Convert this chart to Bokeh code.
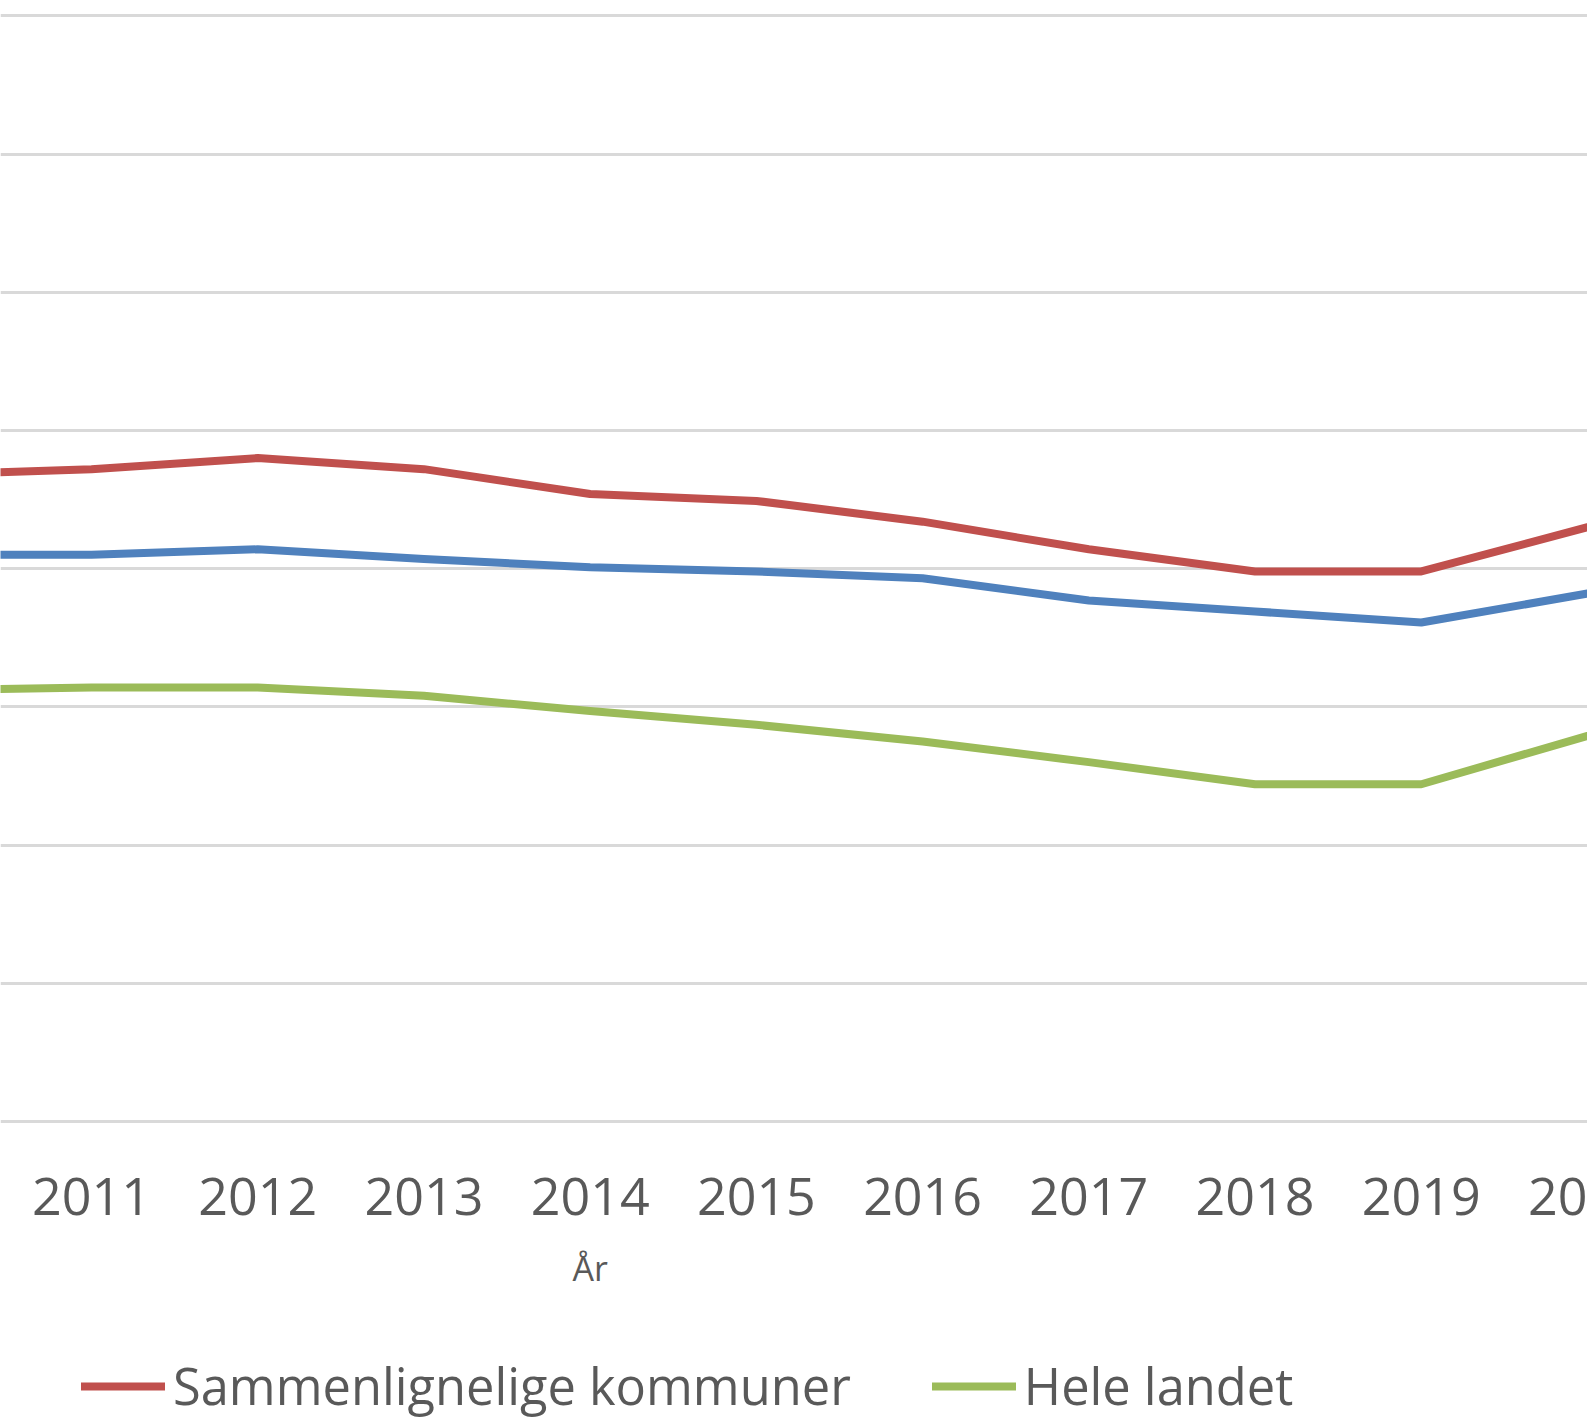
from bokeh.plotting import figure
from bokeh.layouts import column
from bokeh.models import Range1d, FixedTicker, Legend, LegendItem, Label
from bokeh.embed import file_html
from bokeh.resources import INLINE

# ---- data (y-axis labels are cropped off, scale is relative) ----
years = [2010, 2011, 2012, 2013, 2014, 2015, 2016, 2017, 2018, 2019, 2020]
kommune = [41.0, 41.0, 41.4, 40.7, 40.1, 39.8, 39.3, 37.7, 36.9, 36.1, 38.2]
sammenlignelige = [46.8, 47.2, 48.0, 47.2, 45.4, 44.9, 43.4, 41.4, 39.8, 39.8, 43.0]
hele_landet = [31.2, 31.4, 31.4, 30.8, 29.7, 28.7, 27.5, 26.0, 24.4, 24.4, 27.9]
grid_values = [0, 10, 20, 30, 40, 50, 60, 70, 80]
# the last year label is cut at the right edge in the picture: only "20" shows
tick_overrides = {2020: "20"}
x_title = "År"
label_samm = "Sammenlignelige kommuner"
label_hele = "Hele landet"

W = 1587
H1, H2 = 1235, 185
FRAME_H = 1124
px_per_year = (1587 - 91) / 9.0
x_start = 2011 - 91 / px_per_year
x_end = 2020 + 1e-6
px_per_unit = (1121 - 15.3) / 80
y_start = -3 / px_per_unit
y_end = 80 + 15.3 / px_per_unit

TEXT = "#595959"
FONT = "Open Sans"
RED, BLUE, GREEN = "#C0504D", "#4F81BD", "#9BBB59"
LW = 8

xr = Range1d(x_start, x_end)

p = figure(width=W, height=H1, output_backend="svg", toolbar_location=None,
           x_range=xr, y_range=Range1d(y_start, y_end),
           min_border_left=0, min_border_right=0, min_border_top=0,
           min_border_bottom=H1 - FRAME_H)
p.outline_line_color = None
p.background_fill_color = "white"
p.border_fill_color = "white"

p.yaxis.visible = False
p.xgrid.visible = False
p.ygrid.ticker = FixedTicker(ticks=grid_values)
p.ygrid.grid_line_color = "#D9D9D9"
p.ygrid.grid_line_width = 3

p.xaxis.ticker = FixedTicker(ticks=years)
p.xaxis.major_label_overrides = tick_overrides
p.xaxis.axis_line_color = None
p.xaxis.major_tick_line_color = None
p.xaxis.minor_tick_line_color = None
p.xaxis.major_label_text_font = FONT
p.xaxis.major_label_text_font_size = "52px"
p.xaxis.major_label_text_color = TEXT
p.xaxis.major_label_standoff = 47

p.line(years, kommune, line_color=BLUE, line_width=LW, line_cap="round", line_join="round")
p.line(years, sammenlignelige, line_color=RED, line_width=LW, line_cap="round", line_join="round")
p.line(years, hele_landet, line_color=GREEN, line_width=LW, line_cap="round", line_join="round")

# ---- lower strip: axis title and legend ----
p2 = figure(width=W, height=H2, output_backend="svg", toolbar_location=None,
            x_range=xr, y_range=Range1d(0, H2),
            min_border_left=0, min_border_right=0, min_border_top=0, min_border_bottom=0)
p2.axis.visible = False
p2.grid.visible = False
p2.outline_line_color = None
p2.background_fill_color = "white"
p2.border_fill_color = "white"
# series copies on a range that keeps them out of view; they only feed the legend glyphs
p2.extra_y_ranges = {"offscreen": Range1d(1000, 2000)}
l_red = p2.line(years, sammenlignelige, y_range_name="offscreen", line_color=RED,
                line_width=LW, line_cap="round")
l_green = p2.line(years, hele_landet, y_range_name="offscreen", line_color=GREEN,
                  line_width=LW, line_cap="round")

p2.add_layout(Label(x=2014, y=H2 - 32, text=x_title,
                    text_font=FONT, text_font_size="34px", text_color=TEXT,
                    text_align="center", text_baseline="middle"))

legend = Legend(items=[LegendItem(label=label_samm, renderers=[l_red], index=0),
                       LegendItem(label=label_hele, renderers=[l_green], index=0)],
                orientation="horizontal", location=(81, 0),
                padding=0, margin=0, spacing=81, label_standoff=8,
                glyph_width=84, glyph_height=40,
                label_text_font=FONT, label_text_font_size="50.6px",
                label_text_color=TEXT, border_line_color=None,
                background_fill_alpha=0)
p2.add_layout(legend, "center")

layout = column(p, p2, spacing=0)
open("out.html", "w").write(file_html(layout, INLINE))
